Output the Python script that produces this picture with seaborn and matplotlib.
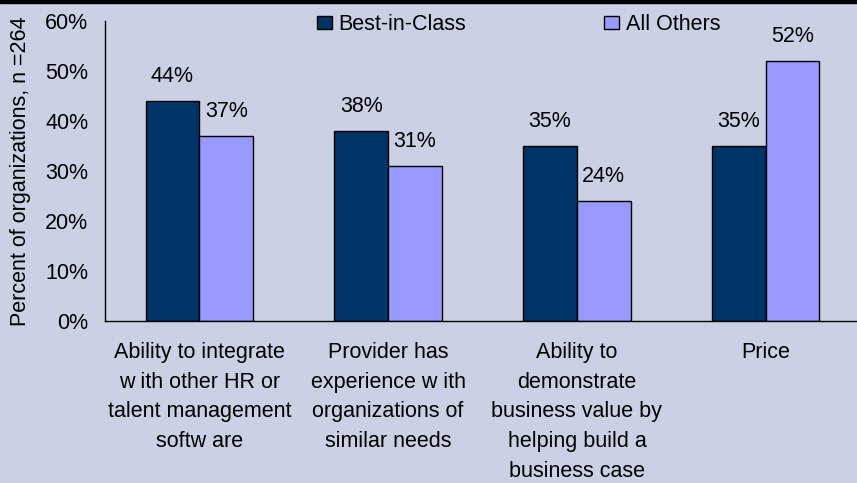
import pandas as pd
import numpy as np
import matplotlib.pyplot as plt
import seaborn as sns
from matplotlib.ticker import PercentFormatter, FixedLocator
from matplotlib.patches import Rectangle

# chart data
categories = [
    "Ability to integrate\nw ith other HR or\ntalent management\nsoftw are",
    "Provider has\nexperience w ith\norganizations of\nsimilar needs",
    "Ability to\ndemonstrate\nbusiness value by\nhelping build a\nbusiness case",
    "Price",
]
series_names = ["Best-in-Class", "All Others"]
best_in_class = [0.44, 0.38, 0.35, 0.35]
all_others = [0.37, 0.31, 0.24, 0.52]
y_ticks = [0, 0.1, 0.2, 0.3, 0.4, 0.5, 0.6]

bg = "#CBD0E4"
palette = {"Best-in-Class": "#003366", "All Others": "#9999FF"}
fs = 15.5

df = pd.DataFrame({
    "category": categories * 2,
    "group": [series_names[0]] * 4 + [series_names[1]] * 4,
    "value": best_in_class + all_others,
})

sns.set_style("white")
plt.rcParams["font.family"] = ["Liberation Sans", "DejaVu Sans"]
plt.rcParams["font.size"] = fs
plt.rcParams["text.color"] = "black"
plt.rcParams["axes.labelcolor"] = "black"
plt.rcParams["xtick.color"] = "black"
plt.rcParams["ytick.color"] = "black"

fig = plt.figure(figsize=(8.57, 4.83), dpi=100, facecolor=bg)
ax = fig.add_axes([105 / 857, 162 / 483, 755 / 857, 300 / 483])
ax.set_facecolor(bg)

sns.barplot(data=df, x="category", y="value", hue="group", order=categories,
            hue_order=series_names, palette=palette, width=0.57,
            edgecolor="black", linewidth=1.0, saturation=1, ax=ax)

for cont in ax.containers:
    ax.bar_label(cont, labels=[f"{v * 100:.0f}%" for v in cont.datavalues],
                 padding=10, fontsize=fs, color="black")

ax.set_ylim(0, 0.6)
ax.set_yticks(y_ticks)
ax.yaxis.set_major_formatter(PercentFormatter(1.0, decimals=0))
ax.set_xlim(-0.5, 3.5)
ax.xaxis.set_major_locator(FixedLocator(np.arange(-0.5, 4.0, 1.0)))
ax.xaxis.set_major_formatter(plt.NullFormatter())
ax.xaxis.set_minor_locator(FixedLocator(np.arange(4)))
ax.set_xticklabels(categories, minor=True, linespacing=1.55)
ax.tick_params(axis="x", which="major", length=6, width=1, direction="out")
ax.tick_params(axis="x", which="minor", length=0, pad=15, labelsize=fs)
ax.tick_params(axis="y", length=6, width=1, direction="out", pad=6, labelsize=fs)
ax.set_xlabel("")
ax.set_ylabel("Percent of organizations, n =264", fontsize=fs, labelpad=10)

sns.despine(ax=ax)
for s in ["left", "bottom"]:
    ax.spines[s].set_color("black")
    ax.spines[s].set_linewidth(1)

ax.legend(title=None, frameon=False, ncol=2, loc="upper left",
          bbox_to_anchor=(317 / 857, 1 - 14 / 483), bbox_transform=fig.transFigure,
          handlelength=0.7, handleheight=0.55, handletextpad=0.3,
          columnspacing=6.4, fontsize=fs, borderaxespad=0, borderpad=0)

# black strip along top edge
fig.add_artist(Rectangle((0, 1 - 3 / 483), 1, 3 / 483, transform=fig.transFigure,
                         color="black", zorder=10))

fig.savefig("out.png", dpi=100, facecolor=bg)
